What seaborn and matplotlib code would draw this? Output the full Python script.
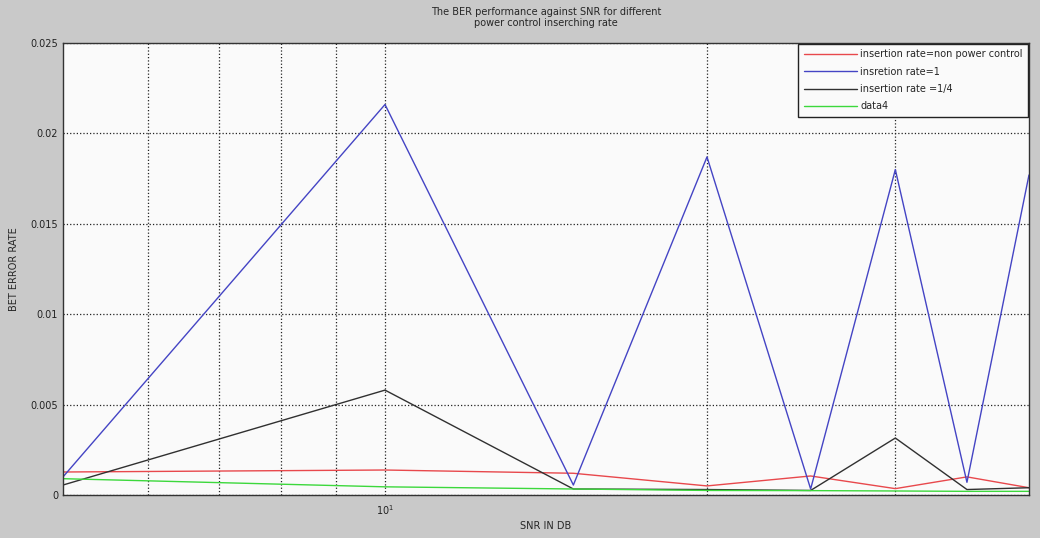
import matplotlib
matplotlib.use("Agg")
import matplotlib.pyplot as plt
import matplotlib.ticker as mticker
import pandas as pd
import seaborn as sns

# SNR points (dB) and BER values
snr = [5, 10, 15, 20, 25, 30, 35, 40]
ber_non_pc = [0.00127, 0.00138, 0.0012, 0.0005, 0.00105, 0.00035, 0.001, 0.0004]
ber_rate_1 = [0.001, 0.0216, 0.00055, 0.0187, 0.00033, 0.0180, 0.0007, 0.0177]
ber_rate_q = [0.00055, 0.0058, 0.00033, 0.0003, 0.00025, 0.00315, 0.0003, 0.0004]
ber_data4 = [0.0009, 0.00045, 0.00033, 0.00025, 0.00024, 0.00022, 0.0002, 0.0002]

labels = ["insertion rate=non power control", "insretion rate=1",
          "insertion rate =1/4", "data4"]
colors = ["#e8484c", "#4444c4", "#303030", "#3cd83c"]

ytick_vals = [0, 0.005, 0.01, 0.015, 0.02, 0.025]
ytick_text = ["0", "0.005", "0.01", "0.015", "0.02", "0.025"]

frames = []
for lab, vals in zip(labels, [ber_non_pc, ber_rate_1, ber_rate_q, ber_data4]):
    frames.append(pd.DataFrame({"snr": snr, "ber": vals, "series": lab}))
df = pd.concat(frames, ignore_index=True)

sns.set_style("white")
plt.rcParams['font.family'] = ['DejaVu Sans']

fig = plt.figure(figsize=(10.4, 5.38), dpi=100, facecolor="#c9c9c9")
ax = fig.add_axes([0.0606, 0.080, 0.9288, 0.840])
ax.set_facecolor("#fafafa")

sns.lineplot(data=df, x="snr", y="ber", hue="series", hue_order=labels,
             palette=colors, linewidth=1.0, ax=ax, sort=False)

ax.set_xscale("log")
ax.set_xlim(5, 40)
ax.set_ylim(0, 0.025)

ax.xaxis.set_major_locator(mticker.FixedLocator([10]))
ax.xaxis.set_major_formatter(mticker.FixedFormatter([r"$10^1$"]))
ax.xaxis.set_minor_locator(mticker.FixedLocator([6, 7, 8, 9, 20, 30]))
ax.xaxis.set_minor_formatter(mticker.NullFormatter())
ax.set_yticks(ytick_vals)
ax.set_yticklabels(ytick_text)

ax.grid(True, which="both", axis="both", linestyle=":", color="#222222", linewidth=0.9)
ax.tick_params(axis="both", which="both", direction="in", labelsize=7, colors="#222222")
ax.tick_params(axis="x", which="major", length=5, pad=6)
ax.tick_params(axis="x", which="minor", length=3)
for sp in ax.spines.values():
    sp.set_color("#333333")
    sp.set_linewidth(1.0)

ax.set_xlabel("SNR IN DB", fontsize=7, labelpad=3)
ax.set_ylabel("BET ERROR RATE", fontsize=7, labelpad=8)
ax.set_title("The BER performance against SNR for different\npower control inserching rate",
             fontsize=7, pad=12)

leg = ax.legend(loc="upper right", fontsize=7, frameon=True, fancybox=False,
                borderaxespad=0.1, handlelength=5.5, labelspacing=0.75,
                handletextpad=0.3, borderpad=0.55)
leg.get_frame().set_edgecolor("#222222")
leg.get_frame().set_facecolor("#fafafa")
leg.get_frame().set_alpha(1)

fig.savefig("out.png", dpi=100, facecolor=fig.get_facecolor())
